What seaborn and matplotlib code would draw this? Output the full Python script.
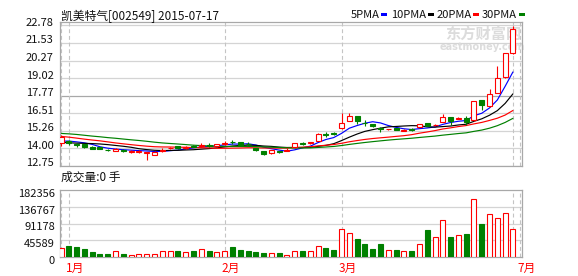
import numpy as np
import pandas as pd
import matplotlib
matplotlib.use("Agg")
import matplotlib.pyplot as plt
import matplotlib.transforms as mtransforms
from matplotlib.patches import Rectangle
import seaborn as sns

# ---------------- data ----------------
title_text = "凯美特气[002549] 2015-07-17"
vol_title = "成交量:0 手"

opens = [14.40, 14.51, 14.31, 14.31, 14.11, 14.09, 13.89, 13.83, 13.87, 13.76,
         13.73, 13.66, 13.54, 13.83, 13.99, 14.16, 13.99, 14.19, 14.19, 14.23,
         14.13, 14.33, 14.45, 14.41, 14.33, 13.99, 13.77, 13.63, 13.77, 13.83,
         14.06, 14.37, 14.35, 14.51, 15.02, 15.08, 15.43, 15.97, 16.30, 15.84,
         15.74, 15.44, 15.34, 15.45, 15.26, 15.34, 15.50, 15.79, 15.64, 15.90,
         16.21, 16.12, 16.14, 16.02, 17.45, 17.03, 17.95, 19.08, 20.83]
closes = [14.78, 14.35, 14.23, 14.06, 13.95, 13.93, 13.85, 13.91, 13.83, 13.79,
          13.77, 13.71, 13.73, 13.87, 14.03, 14.01, 14.09, 14.11, 14.23, 14.19,
          14.29, 14.37, 14.41, 14.23, 14.29, 13.85, 13.61, 13.85, 13.73, 13.89,
          14.35, 14.33, 14.45, 15.01, 14.98, 15.04, 15.83, 16.30, 15.97, 15.80,
          15.58, 15.40, 15.37, 15.31, 15.30, 15.30, 15.72, 15.62, 15.68, 16.21,
          15.97, 16.16, 15.90, 17.38, 17.10, 17.88, 19.00, 20.79, 22.51]
highs = [14.94, 14.61, 14.35, 14.33, 14.13, 14.11, 13.91, 13.99, 13.93, 13.87,
         13.87, 13.76, 13.77, 14.01, 14.11, 14.18, 14.13, 14.23, 14.35, 14.39,
         14.33, 14.51, 14.61, 14.43, 14.41, 14.01, 13.79, 13.89, 13.81, 14.03,
         14.39, 14.47, 14.47, 15.07, 15.18, 15.14, 16.50, 16.50, 16.32, 16.02,
         15.76, 15.55, 15.40, 15.47, 15.36, 15.44, 15.74, 15.82, 15.74, 16.44,
         16.24, 16.22, 16.32, 17.41, 17.48, 18.23, 19.89, 20.84, 22.75]
lows = [14.17, 14.26, 14.11, 14.04, 13.93, 13.91, 13.81, 13.79, 13.76, 13.68,
        13.66, 13.19, 13.51, 13.76, 13.93, 13.96, 13.95, 14.06, 14.06, 14.11,
        14.11, 14.21, 14.31, 14.21, 14.19, 13.83, 13.51, 13.59, 13.69, 13.81,
        14.03, 14.23, 14.33, 14.49, 14.82, 14.93, 15.40, 15.94, 15.74, 15.62,
        15.55, 15.18, 15.32, 15.29, 15.22, 15.20, 15.48, 15.58, 15.62, 15.88,
        15.68, 16.08, 15.68, 15.97, 16.73, 16.98, 17.93, 19.04, 20.74]
volumes = [25300, 28900, 26200, 20800, 12600, 7200, 7200, 15300, 7200, 6300,
           7200, 9000, 9000, 17200, 15300, 15300, 12600, 15300, 22600, 15300,
           12600, 17200, 26200, 18100, 15300, 12600, 9900, 9900, 9900, 6300,
           15300, 15300, 17200, 30700, 23500, 18100, 76700, 65900, 47800, 34300,
           20800, 34300, 19900, 18100, 17200, 15300, 34300, 72200, 55100, 101100,
           53300, 60500, 61400, 158000, 89400, 117400, 107400, 120100, 76700]
# closes of the sessions before the visible window (needed by the moving averages)
prior_closes = [15.22, 15.52, 15.82, 15.72, 15.42, 15.62, 15.32, 15.52, 15.42, 15.22,
                15.42, 15.62, 15.52, 15.22, 15.11, 15.32, 15.42, 15.11, 15.01, 14.91,
                14.71, 14.51, 14.21, 14.11, 14.21, 14.31, 14.51, 14.41, 14.51]

price_ticks = [22.78, 21.53, 20.27, 19.02, 17.77, 16.51, 15.26, 14.00, 12.75]
price_tick_labels = ["22.78", "21.53", "20.27", "19.02", "17.77", "16.51", "15.26", "14.00", "12.75"]
vol_ticks = [182356, 136767, 91178, 45589, 0]
vol_tick_labels = ["182356", "136767", "91178", "45589", "0"]
month_labels = ["1月", "2月", "3月", "7月"]
month_pos = [1, 21, 36, 58.93]
edge_pos = [0, 58]

ma_windows = [5, 10, 20, 30]
ma_names = ["5PMA", "10PMA", "20PMA", "30PMA"]
ma_colors = ["#0000FF", "#000000", "#FF0000", "#008000"]

UP = "#FF0000"
DOWN = "#008000"
GRID = "#D4D4D4"
SPINE = "#A8A8A8"

# ---------------- style ----------------
sns.set_theme(style="white")
plt.rcParams["font.family"] = ["Noto Sans CJK SC", "DejaVu Sans"]
plt.rcParams["axes.unicode_minus"] = False

W, H = 578, 276
fig = plt.figure(figsize=(W / 100, H / 100), dpi=100)
fig.patch.set_facecolor("white")


def rect(l, t, r, b):
    return [l / W, 1 - b / H, (r - l) / W, (b - t) / H]


ax = fig.add_axes(rect(60, 22, 521.5, 165.7))
vax = fig.add_axes(rect(60, 190, 521.5, 257))

n = len(closes)
idx = np.arange(n)
o = np.array(opens)
c = np.array(closes)
hi = np.array(highs)
lo = np.array(lows)
v = np.array(volumes)
up = c >= o
colors = np.where(up, UP, DOWN)

xlim = (-0.13, 59.1)
body_w = 0.64
lw = 0.8

# ---------------- price panel ----------------
ax.set_xlim(*xlim)
ax.set_ylim(12.75, 23.03)
ax.set_yticks(price_ticks)
ax.set_yticklabels(price_tick_labels)
ax.set_xticks([])
for t in price_ticks:
    ax.axhline(t, color="#A8A8A8" if t == 17.77 else GRID, lw=0.9, zorder=0.5)
for p in month_pos + edge_pos:
    ax.axvline(p, color="#C4C4C4", lw=0.8, ls=(0, (3.5, 2.5)), zorder=0.6)

# watermark
ax.text((483 - 60) / 461.5, (165.7 - 34) / 143.7, "东方财富网", transform=ax.transAxes,
        ha="center", va="center", fontsize=11, fontweight="bold", color="#DCDCDC", zorder=0.7)
ax.text((482 - 60) / 461.5, (165.7 - 46.5) / 143.7, "eastmoney.com", transform=ax.transAxes,
        ha="center", va="center", fontsize=7, fontweight="bold", color="#DCDCDC", zorder=0.7,
        family=["DejaVu Sans"])

# moving averages
all_close = pd.Series(prior_closes + closes)
frames = []
for w_, name in zip(ma_windows, ma_names):
    ma = all_close.rolling(w_).mean().iloc[len(prior_closes):].to_numpy()
    frames.append(pd.DataFrame({"idx": idx, "value": ma, "ma": name}))
ma_df = pd.concat(frames, ignore_index=True)
sns.lineplot(data=ma_df, x="idx", y="value", hue="ma", hue_order=ma_names,
             palette=dict(zip(ma_names, ma_colors)), linewidth=0.85, legend=False,
             ax=ax, zorder=2)

# candles
ax.vlines(idx, lo, hi, colors=colors, lw=lw, zorder=3)
ax.bar(idx[up], (c - o)[up], bottom=o[up], width=body_w, facecolor="white",
       edgecolor=UP, lw=lw, zorder=4)
ax.bar(idx[~up], (c - o)[~up], bottom=o[~up], width=body_w, facecolor=DOWN,
       edgecolor=DOWN, lw=lw, zorder=4)
ax.set_xlabel("")
ax.set_ylabel("")

# ---------------- volume panel ----------------
vax.set_xlim(*xlim)
vax.set_ylim(0, 182356)
vax.set_yticks(vol_ticks)
vax.set_yticklabels(vol_tick_labels)
vax.set_xticks([])
for t in vol_ticks[1:-1]:
    vax.axhline(t, color=GRID, lw=0.9, zorder=0.5)
for p in month_pos + edge_pos:
    vax.axvline(p, color="#C4C4C4", lw=0.8, ls=(0, (3.5, 2.5)), zorder=0.6)
vax.bar(idx[up], v[up], width=body_w, facecolor="white", edgecolor=UP, lw=lw, zorder=3)
vax.bar(idx[~up], v[~up], width=body_w, facecolor=DOWN, edgecolor=DOWN, lw=lw, zorder=3)

# month labels
trans = mtransforms.blended_transform_factory(vax.transData, vax.transAxes)
for lab, p in zip(month_labels, month_pos):
    vax.text(p, 0, lab, transform=mtransforms.offset_copy(trans, fig=fig, x=6, y=-11, units="dots"),
             ha="center", va="center", color="#FF0000", fontsize=8.5)

# axes styling
for a, pad, dy in ((ax, 4.6, 3.5), (vax, 3.6, -3.0)):
    for s in a.spines.values():
        s.set_color(SPINE)
        s.set_linewidth(0.9)
    a.tick_params(axis="y", length=0, pad=pad, labelsize=8, labelcolor="#111111")
    a.set_facecolor("white")
    off = mtransforms.ScaledTranslation(0, dy / 100, fig.dpi_scale_trans)
    for lbl in a.get_yticklabels():
        lbl.set_transform(lbl.get_transform() + off)

# ---------------- texts ----------------
fig.text(61 / W, 1 - 16 / H, title_text, fontsize=8.5, ha="left", va="center", color="#111111")
fig.text(61 / W, 1 - 177.5 / H, vol_title, fontsize=8.5, ha="left", va="center", color="#111111")

renderer = fig.canvas.get_renderer()
leg_x = [351, 391.5, 436.5, 482]
for x0, name, col in zip(leg_x, ma_names, ma_colors):
    t = fig.text(x0 / W, 1 - 14.5 / H, name, fontsize=8, ha="left", va="center", color="#111111")
    bb = t.get_window_extent(renderer)
    fig.add_artist(Rectangle((bb.x1 / W + 1.5 / W, 1 - 15.8 / H), 6 / W, 2.6 / H,
                             transform=fig.transFigure, facecolor=col, edgecolor="none"))

fig.savefig("out.png", dpi=100, facecolor="white")
